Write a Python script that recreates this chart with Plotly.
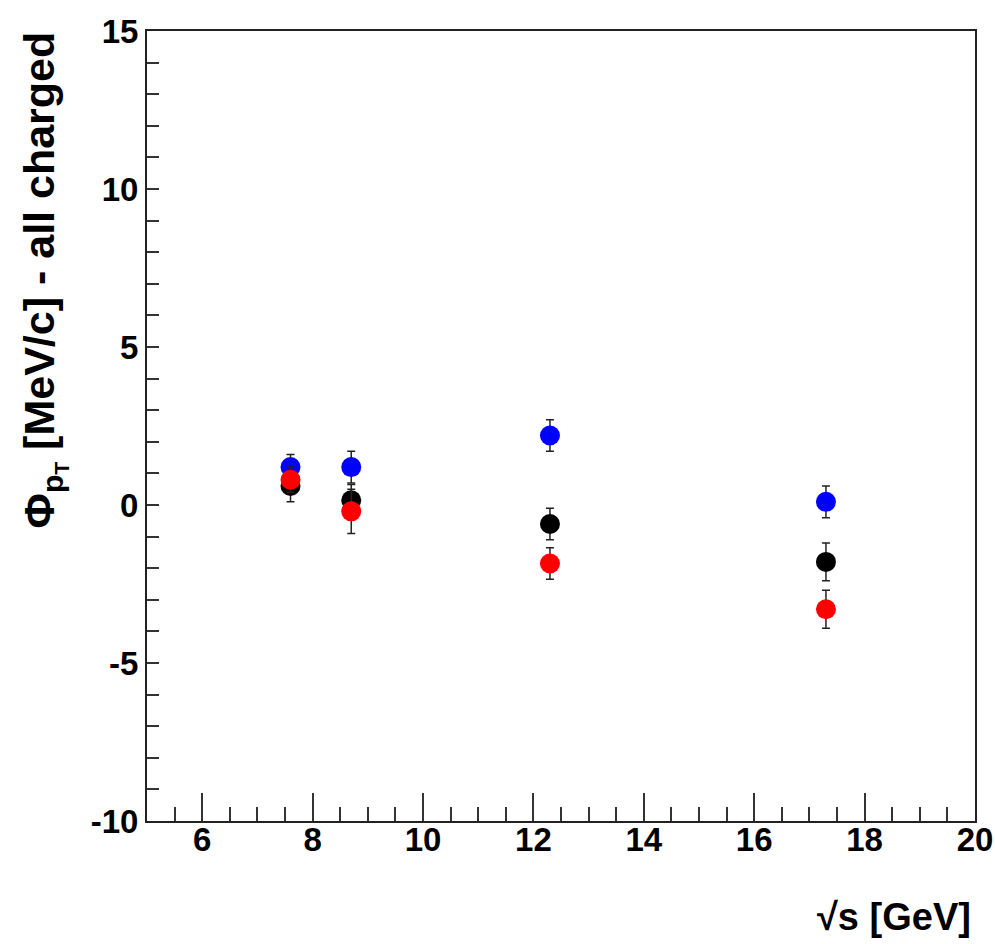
import plotly.graph_objects as go

# Collision energies (GeV)
sqrt_s = [7.6, 8.7, 12.3, 17.3]

# Phi_pT for all charged particles, three selections
phi_black = [0.6, 0.15, -0.6, -1.8]
err_black = [0.5, 0.5, 0.5, 0.6]
phi_blue = [1.2, 1.2, 2.2, 0.1]
err_blue = [0.4, 0.5, 0.5, 0.5]
phi_red = [0.8, -0.2, -1.85, -3.3]
err_red = [0.4, 0.7, 0.5, 0.6]

# Axis tick labels (plain hyphen for negatives)
y_tick_vals = [-10, -5, 0, 5, 10, 15]
y_tick_text = ["-10", "-5", "0", "5", "10", "15"]
x_tick_vals = [6, 8, 10, 12, 14, 16, 18, 20]
x_tick_text = ["6", "8", "10", "12", "14", "16", "18", "20"]

font_family = "Liberation Sans, Arial, sans-serif"

fig = go.Figure()


def add_series(y, err, color):
    fig.add_trace(go.Scatter(
        x=sqrt_s, y=y, mode="markers",
        marker=dict(symbol="circle", size=20, color=color, line=dict(width=0)),
        error_y=dict(type="data", array=err, visible=True,
                     color="#222222", thickness=1.5, width=4),
        showlegend=False,
    ))


add_series(phi_black, err_black, "#000000")
add_series(phi_blue, err_blue, "#0000ff")
add_series(phi_red, err_red, "#ff0000")

tick_font = dict(family=font_family, size=33, color="black", weight="bold")

fig.update_layout(
    width=995, height=944,
    margin=dict(l=147, r=20, t=31, b=123, autoexpand=False),
    paper_bgcolor="white", plot_bgcolor="white",
    xaxis=dict(
        range=[5, 20], tickmode="array", tickvals=x_tick_vals, ticktext=x_tick_text,
        ticks="inside", ticklen=28, tickwidth=1.5, tickcolor="#333333",
        minor=dict(dtick=0.5, tick0=0, ticks="inside", ticklen=14,
                   tickwidth=1.5, tickcolor="#333333"),
        showline=True, linecolor="#222222", linewidth=2, mirror=True,
        showgrid=False, zeroline=False, automargin=False,
        tickfont=tick_font, ticklabelstandoff=-12,
    ),
    yaxis=dict(
        range=[-10, 15], tickmode="array", tickvals=y_tick_vals, ticktext=y_tick_text,
        ticks="inside", ticklen=12, tickwidth=1.5, tickcolor="#333333",
        minor=dict(dtick=1, tick0=0, ticks="inside", ticklen=12,
                   tickwidth=1.5, tickcolor="#333333"),
        showline=True, linecolor="#222222", linewidth=2, mirror=True,
        showgrid=False, zeroline=False, automargin=False,
        tickfont=tick_font, ticklabelstandoff=0,
    ),
    annotations=[
        dict(
            text="Φ<sub>p<sub>T</sub></sub> [MeV/c] - all charged",
            xref="paper", yref="paper", x=-0.125, y=1.002,
            xanchor="center", yanchor="top", textangle=-90,
            showarrow=False,
            font=dict(family=font_family, size=43, color="black", weight="bold"),
        ),
        dict(
            text="√s [GeV]",
            xref="paper", yref="paper", x=0.997, y=-0.1215,
            xanchor="right", yanchor="middle",
            showarrow=False,
            font=dict(family=font_family, size=38, color="black", weight="bold"),
        ),
    ],
)

fig.write_html("out.html")
